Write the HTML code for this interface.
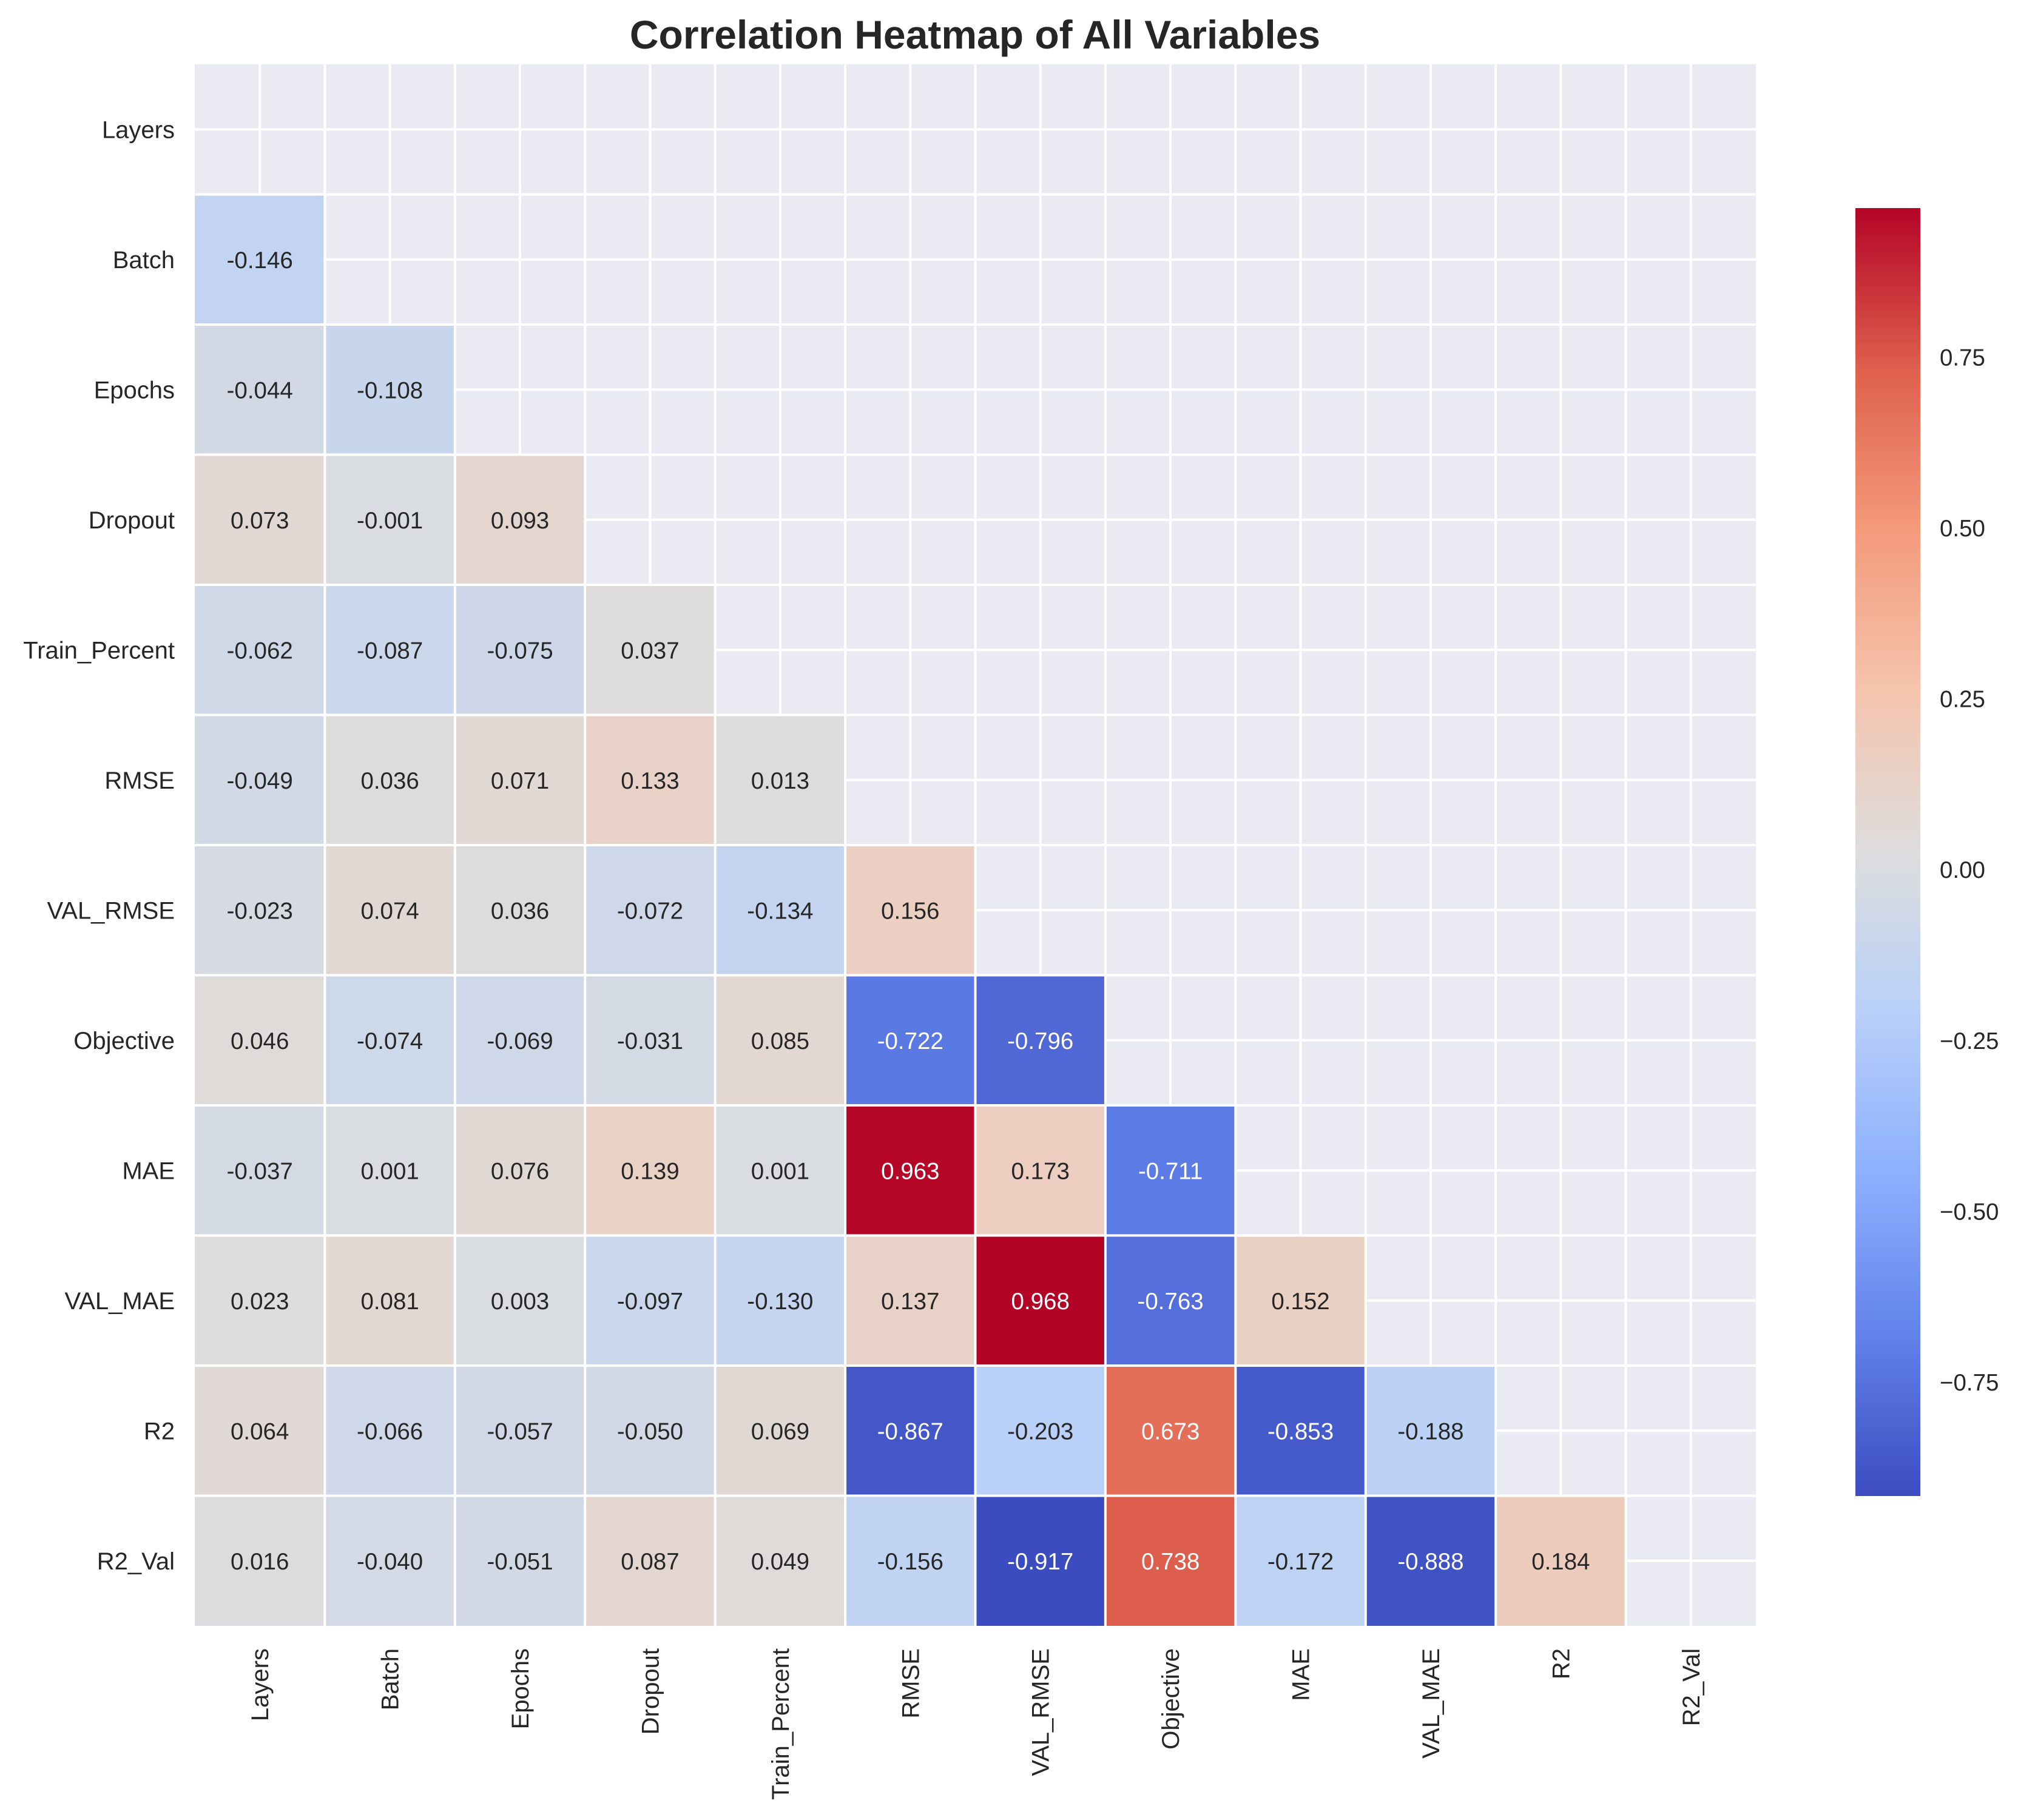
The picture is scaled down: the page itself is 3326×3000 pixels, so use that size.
<!DOCTYPE html>
<html><head><meta charset="utf-8"><style>
html,body{margin:0;padding:0;background:#fff;}
svg{display:block;font-family:"Liberation Sans",Arial,sans-serif;}
</style></head><body>
<svg id="chart" width="3326" height="3000" viewBox="0 0 3326 3000" xmlns="http://www.w3.org/2000/svg">
<defs>
<linearGradient id="cbgrad" x1="0" y1="1" x2="0" y2="0">
<stop offset="0" stop-color="rgb(59,76,192)"/>
<stop offset="0.125" stop-color="rgb(98,130,234)"/>
<stop offset="0.25" stop-color="rgb(141,176,254)"/>
<stop offset="0.375" stop-color="rgb(184,208,249)"/>
<stop offset="0.5" stop-color="rgb(221,221,221)"/>
<stop offset="0.625" stop-color="rgb(245,196,173)"/>
<stop offset="0.75" stop-color="rgb(244,154,123)"/>
<stop offset="0.875" stop-color="rgb(222,96,77)"/>
<stop offset="1" stop-color="rgb(180,4,38)"/>
</linearGradient>
</defs>
<text x="1607" y="80" text-anchor="middle" font-size="66" font-weight="bold" fill="#262626">Correlation Heatmap of All Variables</text>
<g id="plot"></g>
<g id="cbar"></g>
</svg>
<script>
const labels = ["Layers","Batch","Epochs","Dropout","Train_Percent","RMSE","VAL_RMSE","Objective","MAE","VAL_MAE","R2","R2_Val"];
const row1 = [-0.146];
const row2 = [-0.044,-0.108];
const row3 = [0.073,-0.001,0.093];
const row4 = [-0.062,-0.087,-0.075,0.037];
const row5 = [-0.049,0.036,0.071,0.133,0.013];
const row6 = [-0.023,0.074,0.036,-0.072,-0.134,0.156];
const row7 = [0.046,-0.074,-0.069,-0.031,0.085,-0.722,-0.796];
const row8 = [-0.037,0.001,0.076,0.139,0.001,0.963,0.173,-0.711];
const row9 = [0.023,0.081,0.003,-0.097,-0.130,0.137,0.968,-0.763,0.152];
const row10 = [0.064,-0.066,-0.057,-0.050,0.069,-0.867,-0.203,0.673,-0.853,-0.188];
const row11 = [0.016,-0.040,-0.051,0.087,0.049,-0.156,-0.917,0.738,-0.172,-0.888,0.184];
const cbTicks = [0.75,0.5,0.25,0,-0.25,-0.5,-0.75];

const rows = [[],row1,row2,row3,row4,row5,row6,row7,row8,row9,row10,row11];
const NS = "http://www.w3.org/2000/svg";
const L = 321, T = 106, W = 2573, H = 2574;
const n = labels.length, cw = W / n, ch = H / n;
const xPos = j => L + j * cw;
const yPos = i => T + i * ch;
let all = [];
rows.forEach(r => all = all.concat(r));
const vmin = Math.min(...all), vmax = Math.max(...all);
const stops = [[59,76,192],[98,130,234],[141,176,254],[184,208,249],[221,221,221],[245,196,173],[244,154,123],[222,96,77],[180,4,38]];
function cmap(v){
  let t = (v - vmin) / (vmax - vmin); t = Math.max(0, Math.min(1, t));
  const p = t * (stops.length - 1); const k = Math.min(stops.length - 2, Math.floor(p)); const f = p - k;
  return stops[k].map((c, m) => Math.round(c + (stops[k+1][m] - c) * f));
}
function lum(c){
  const l = c.map(x => { x /= 255; return x <= 0.03928 ? x / 12.92 : Math.pow((x + 0.055) / 1.055, 2.4); });
  return 0.2126 * l[0] + 0.7152 * l[1] + 0.0722 * l[2];
}
function mk(tag, attrs, parent){
  const e = document.createElementNS(NS, tag);
  for (const k in attrs) e.setAttribute(k, attrs[k]);
  parent.appendChild(e); return e;
}
const plot = document.getElementById("plot");
const bg = mk("rect", {x:L, y:T, width:W, height:H, fill:"#EAEAF2"}, plot);


for (let k = 0; k < n; k++) {
  const gv = mk("line", {x1:xPos(k)+cw/2, x2:xPos(k)+cw/2, y1:T, y2:T+H, stroke:"#fff", "stroke-width":4}, plot);
  
  
  const gh = mk("line", {y1:yPos(k)+ch/2, y2:yPos(k)+ch/2, x1:L, x2:L+W, stroke:"#fff", "stroke-width":4}, plot);
  
  
}
rows.forEach((r, i) => {
  r.forEach((v, j) => {
    const c = cmap(v);
    const rc = mk("rect", {x:xPos(j), y:yPos(i), width:cw, height:ch, fill:`rgb(${c[0]},${c[1]},${c[2]})`}, plot);
    
    
    const tx = mk("text", {x:xPos(j)+cw/2, y:yPos(i)+ch/2+14, "text-anchor":"middle", "font-size":38.5, fill: lum(c) > 0.408 ? "#262626" : "#ffffff"}, plot);
    tx.textContent = v.toFixed(3);
    
    
  });
});
for (let k = 1; k < n; k++) {
  const bv = mk("line", {x1:xPos(k), x2:xPos(k), y1:T, y2:T+H, stroke:"#fff", "stroke-width":4}, plot);
  
  
  const bh = mk("line", {y1:yPos(k), y2:yPos(k), x1:L, x2:L+W, stroke:"#fff", "stroke-width":4}, plot);
  
  
}
labels.forEach((lab, k) => {
  const yl = mk("text", {x:288, y:yPos(k)+ch/2+14, "text-anchor":"end", "font-size":40, fill:"#262626"}, plot);
  yl.textContent = lab;
  
  
  const cx = xPos(k)+cw/2 + 14, cy = 2717;
  const xl = mk("text", {x:cx, y:cy, "text-anchor":"end", "font-size":40, fill:"#262626", transform:`rotate(-90 ${cx} ${cy})`}, plot);
  xl.textContent = lab;
  
  
});
const cb = document.getElementById("cbar");
const cbT = 343, cbB = 2466, cbL = 3058, cbW = 107;
const cbY = v => cbB - (v - vmin) / (vmax - vmin) * (cbB - cbT);
const cbr = mk("rect", {x:cbL, y:cbT, width:cbW, height:cbB-cbT, fill:"url(#cbgrad)"}, cb);


cbTicks.forEach(v => {
  const t = mk("text", {x:3197, y:cbY(v)+14, "font-size":38.5, fill:"#262626"}, cb);
  t.textContent = (v < 0 ? "\u2212" : "") + Math.abs(v).toFixed(2);
  
  
});
</script>
</body></html>
